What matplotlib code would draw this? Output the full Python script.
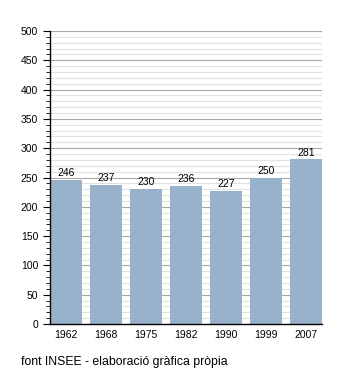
import numpy as np
import matplotlib.pyplot as plt
from matplotlib.ticker import MultipleLocator

years = ["1962", "1968", "1975", "1982", "1990", "1999", "2007"]
population = [246, 237, 230, 236, 227, 250, 281]

plt.rcParams['font.family'] = ['Liberation Sans', 'DejaVu Sans']

fig = plt.figure(figsize=(3.5, 3.73), dpi=100)
ax = fig.add_axes([50 / 350, 1 - 324 / 373, 272 / 350, 293 / 373])

x = np.arange(len(years))
ax.yaxis.set_major_locator(MultipleLocator(50))
ax.yaxis.set_minor_locator(MultipleLocator(10))
ax.grid(axis='y', which='minor', color='#e2e2e2', linewidth=0.8)
ax.grid(axis='y', which='major', color='#a8a8a8', linewidth=0.8)
ax.set_axisbelow(True)

bars = ax.bar(x, population, width=0.78, color='#98b2cc', zorder=2)
for xi, v in zip(x, population):
    ax.text(xi, v + 3, str(v), ha='center', va='bottom', fontsize=7.5)

ax.set_xlim(-0.4, 6.4)
ax.set_ylim(0, 500)
ax.set_xticks(x)
ax.set_xticklabels(years)
ax.tick_params(axis='x', length=0, labelsize=7.5, pad=4)
ax.tick_params(axis='y', which='major', length=5, labelsize=7.5, direction='out')
ax.tick_params(axis='y', which='minor', length=3, direction='out')

for side in ['top', 'right']:
    ax.spines[side].set_visible(False)
ax.spines['left'].set_linewidth(1)
ax.spines['bottom'].set_linewidth(1)

fig.text(21 / 350, 1 - 362 / 373, "font INSEE - elaboració gràfica pròpia",
         fontsize=8.8, va='center', ha='left')

fig.savefig('out.png', dpi=100)
